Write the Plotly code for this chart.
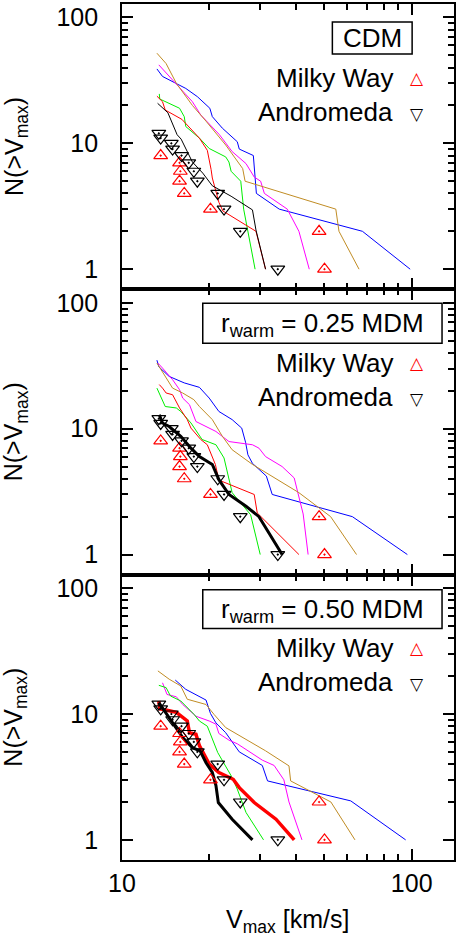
import plotly.graph_objects as go
from plotly.subplots import make_subplots

# observed satellites (same in every panel)
mw_vmax = [50.0, 47.9, 20.2, 16.4, 15.8, 15.9, 15.8, 13.6]
mw_n = [1, 2, 3, 4, 5, 6, 7, 8]
m31_vmax = [34.5, 25.6, 22.5, 21.4, 18.2, 17.7, 17.0, 16.05, 14.95, 14.8, 13.6, 13.4]
m31_n = [1, 2, 3, 4, 5, 6, 7, 8, 9, 10, 11, 12]

# panel 1: CDM
cdm_blue_v = [98.8, 67.6, 34.9, 29.1, 28.4, 25.4, 25.0, 22.2, 20.5, 20.1, 18.2, 16.6, 13.8, 13.2]
cdm_blue_n = [1, 2, 3, 4, 8, 9, 10.3, 13.2, 16.3, 19, 23.5, 27.3, 34, 39]
cdm_magenta_v = [44.3, 40.8, 37.2, 31.0, 30.1, 28.6, 26.8, 24.0, 21.7, 18.7, 17.5, 15.3, 13.8, 13.4]
cdm_magenta_n = [1, 2, 3, 4, 5, 5.4, 6.9, 8.6, 11.7, 16.8, 21.4, 30, 39, 42]
cdm_gold_v = [65.8, 56.1, 54.7, 26.6, 26.1, 22.8, 19.5, 17.5, 15.4, 14.2, 13.2]
cdm_gold_n = [1, 2, 3, 5, 6.3, 9.7, 15, 20, 30, 43, 52]
cdm_green_v = [28.8, 26.3, 25.7, 23.8, 23.4, 22.8, 20.0, 18.5, 16.6, 16.4, 15.8, 13.5, 13.45]
cdm_green_n = [1, 3, 5, 6, 7.1, 7.8, 9.1, 11, 13.6, 16.3, 19, 22.5, 24.7]
cdm_red_v = [31.3, 29.0, 22.3, 21.6, 20.5, 20.3, 19.7, 18.5, 16.1, 14.1, 13.8, 13.2]
cdm_red_n = [1, 2, 2.9, 3.4, 5.3, 6.2, 8.8, 11, 15.5, 18.4, 21.4, 23.7]
cdm_black_v = [31.3, 29.0, 28.2, 23.8, 20.5, 19.0, 17.5, 16.6, 16.0, 15.5, 14.4, 13.27]
cdm_black_n = [1, 2.05, 2.96, 3.8, 4.6, 5.8, 7.1, 9.1, 10.8, 11.7, 17.5, 20.8]

# panel 2: r_warm = 0.25 MDM
m25_blue_v = [96.6, 62.4, 33.0, 31.5, 28.2, 27.2, 26.7, 25.9, 24.0, 21.6, 20.0, 18.5, 16.4, 14.55, 13.4, 13.2]
m25_blue_n = [1, 2, 3, 4.2, 5.3, 6.2, 7.8, 10.1, 11.8, 13.7, 17.5, 21.3, 23.1, 26, 31, 35]
m25_magenta_v = [43.9, 42.2, 39.3, 35.7, 31.3, 29.7, 28.2, 23.4, 21.1, 18.0, 17.1, 16.2, 15.8, 14.95, 13.8, 13.3]
m25_magenta_n = [1, 2.1, 4.06, 5, 6, 7, 7.45, 7.9, 9.5, 11.4, 15.5, 17.5, 20.4, 24.5, 30.3, 33.2]
m25_gold_v = [64.5, 52.5, 40.8, 31.3, 28.2, 24.0, 22.2, 20.5, 18.5, 17.7, 16.2, 14.95, 13.8, 13.2]
m25_gold_n = [1, 2, 3.1, 4.45, 5.2, 6.8, 8.7, 11.8, 15, 17, 19.2, 21, 28.5, 33.2]
m25_green_v = [30.0, 27.8, 24.0, 23.4, 22.5, 21.1, 18.9, 17.3, 15.95, 15.4, 14.1, 13.2]
m25_green_n = [1, 2.07, 3.1, 3.93, 5.85, 7.45, 8.2, 11.1, 13.7, 14.6, 15, 21]
m25_red_v = [40.8, 29.3, 28.6, 21.6, 21.0, 19.7, 18.7, 17.3, 16.8, 15.8, 14.95, 14.2, 13.8, 13.45]
m25_red_n = [1, 2.14, 3, 3.9, 5.2, 7.45, 8.2, 10.1, 11.8, 14.6, 18.6, 19.2, 21, 22.4]
m25_black_v = [35.7, 29.7, 26.8, 23.4, 21.6, 20.5, 18.5, 17.3, 15.95, 14.55, 13.8, 13.45]
m25_black_n = [1, 2, 2.42, 3, 3.93, 5.2, 6, 7, 8.7, 10.4, 11.1, 12.9]

# panel 3: r_warm = 0.50 MDM
m50_blue_v = [95.3, 61.6, 31.8, 30.5, 25.4, 22.8, 21.1, 20.2, 19.5, 16.6, 15.27]
m50_blue_n = [1, 2.04, 2.94, 3.9, 5.0, 7.1, 8.5, 10.1, 12.9, 15.7, 18.6]
m50_magenta_v = [41.8, 37.7, 36.2, 33.5, 30.5, 26.5, 25.0, 23.4, 21.6, 21.1, 20.0, 18.0, 16.2, 15.4, 14.3, 13.8]
m50_magenta_n = [1, 2, 3, 3.9, 4.3, 5.3, 5.8, 6.2, 7.0, 8.3, 8.8, 9.6, 11.9, 13.7, 14.3, 17.7]
m50_gold_v = [63.7, 52.6, 38.2, 37.7, 31.3, 25.4, 22.8, 20.8, 19.5, 16.8, 15.95, 14.55, 13.3]
m50_gold_n = [1, 2, 2.94, 3.87, 5.1, 6.7, 7.8, 9.9, 11.9, 13.1, 16.7, 18.9, 22]
m50_green_v = [30.8, 26.8, 25.0, 24.0, 21.4, 20.5, 19.7, 18.5, 17.75, 15.95, 14.7, 14.2, 13.4]
m50_green_n = [1, 1.65, 2.53, 3.13, 4.94, 6.3, 8.0, 8.8, 9.9, 12.7, 13.9, 16.2, 16.9]
m50_red_v = [39.3, 34.0, 28.6, 25.4, 24.2, 21.6, 20.0, 19.5, 18.5, 18.0, 17.1, 16.8, 15.95, 15.4, 14.55, 13.5, 13.4]
m50_red_n = [1, 1.46, 1.98, 2.6, 3.03, 3.43, 4, 4.5, 5.6, 6.9, 7.1, 8.8, 9.6, 10.3, 10.6, 11, 12.7]
m50_black_v = [28.2, 24.0, 21.5, 21.1, 20.5, 19.5, 18.6, 17.5, 16.2, 14.95, 13.8, 13.4]
m50_black_n = [1, 1.46, 1.98, 2.7, 3.43, 4.1, 5.1, 5.4, 6.5, 8.5, 10.9, 12.3]

panel_labels = ["CDM", "r<sub>warm</sub> = 0.25 MDM", "r<sub>warm</sub> = 0.50 MDM"]
y_ticks = [1, 10, 100]
x_ticks = [10, 100]

BLUE, MAGENTA, GOLD, GREEN, RED, BLACK = "#0000ff", "#ff00ff", "#c08c24", "#00ee00", "#ff0000", "#000000"
FONT = "Liberation Sans, Arial, sans-serif"

panels = [
    [(cdm_blue_v, cdm_blue_n, BLUE, 1), (cdm_magenta_v, cdm_magenta_n, MAGENTA, 1),
     (cdm_gold_v, cdm_gold_n, GOLD, 1), (cdm_green_v, cdm_green_n, GREEN, 1),
     (cdm_red_v, cdm_red_n, RED, 1), (cdm_black_v, cdm_black_n, BLACK, 1)],
    [(m25_blue_v, m25_blue_n, BLUE, 1), (m25_magenta_v, m25_magenta_n, MAGENTA, 1),
     (m25_gold_v, m25_gold_n, GOLD, 1), (m25_green_v, m25_green_n, GREEN, 1),
     (m25_red_v, m25_red_n, RED, 1), (m25_black_v, m25_black_n, BLACK, 3)],
    [(m50_blue_v, m50_blue_n, BLUE, 1), (m50_magenta_v, m50_magenta_n, MAGENTA, 1),
     (m50_gold_v, m50_gold_n, GOLD, 1), (m50_green_v, m50_green_n, GREEN, 1),
     (m50_red_v, m50_red_n, RED, 3.5), (m50_black_v, m50_black_n, BLACK, 3)],
]

W, H = 458, 942
L, R, T, B = 122, 3, 2, 82

fig = make_subplots(rows=3, cols=1, shared_xaxes=True, vertical_spacing=0)

for i, curves in enumerate(panels):
    row = i + 1
    for v, n, col, w in curves:
        fig.add_trace(go.Scatter(x=v, y=n, mode="lines", line=dict(color=col, width=w),
                                 showlegend=False), row=row, col=1)
    fig.add_trace(go.Scatter(x=mw_vmax, y=mw_n, mode="markers", showlegend=False,
                             marker=dict(symbol="triangle-up-open-dot", size=12, color=RED,
                                         line=dict(width=1.2, color=RED))), row=row, col=1)
    fig.add_trace(go.Scatter(x=m31_vmax, y=m31_n, mode="markers", showlegend=False,
                             marker=dict(symbol="triangle-down-open-dot", size=12, color=BLACK,
                                         line=dict(width=1.2, color=BLACK))), row=row, col=1)

axis_common = dict(
    type="log", showgrid=False, zeroline=False, showline=True, linecolor="black", linewidth=1.8,
    mirror="allticks", ticks="inside", ticklen=11, tickwidth=2, tickcolor="black",
    tickfont=dict(family=FONT, size=25, color="black"),
)
minor_y = [2, 3, 4, 5, 6, 7, 8, 9, 20, 30, 40, 50, 60, 70, 80, 90]
minor_x = [20, 30, 40, 50, 60, 70, 80, 90]

for row in range(1, 4):
    fig.update_yaxes(axis_common, range=[-0.16, 2.107], tickvals=y_ticks,
                     ticktext=[str(t) for t in y_ticks], ticklabelstandoff=17,
                     minor=dict(tickvals=minor_y, ticks="inside", ticklen=6, tickwidth=1.5,
                                tickcolor="black", showgrid=False),
                     row=row, col=1)
    fig.update_xaxes(axis_common, range=[1, 2.146], tickvals=x_ticks,
                     ticktext=[str(t) for t in x_ticks], ticklabelstandoff=0,
                     minor=dict(tickvals=minor_x, ticks="inside", ticklen=6, tickwidth=1.5,
                                tickcolor="black", showgrid=False),
                     row=row, col=1)


def px_x(px):
    return (px - L) / (W - L - R)


def px_y(py):
    return 1 - (py - T) / (H - T - B)


annotations = []
shapes = []
panel_tops = [T, T + (H - T - B) / 3, T + 2 * (H - T - B) / 3]
# label boxes: left, right, top, bottom offsets (px) within each panel
box_px = [(333, 413, 18, 50), (203, 443, 14, 54), (203, 443, 15, 54)]
for i, top in enumerate(panel_tops):
    x0, x1, y0, y1 = box_px[i]
    shapes.append(dict(type="rect", xref="paper", yref="paper",
                       x0=px_x(x0), x1=px_x(x1), y0=px_y(top + y0), y1=px_y(top + y1),
                       line=dict(color="black", width=1.5), fillcolor="white", layer="above"))
    annotations.append(dict(x=px_x((x0 + x1) / 2), y=px_y(top + (y0 + y1) / 2 + (0 if i == 0 else 1)),
                            xref="paper", yref="paper",
                            xanchor="center", yanchor="middle", showarrow=False,
                            text=panel_labels[i], font=dict(family=FONT, size=26, color="black")))
    annotations.append(dict(x=px_x(396), y=px_y(top + 74), xref="paper", yref="paper",
                            xanchor="right", yanchor="middle", showarrow=False,
                            text="Milky Way", font=dict(family=FONT, size=26, color="black")))
    annotations.append(dict(x=px_x(418), y=px_y(top + 74), xref="paper", yref="paper",
                            xanchor="center", yanchor="middle", showarrow=False,
                            text="△", font=dict(family="DejaVu Sans", size=17, color=RED)))
    annotations.append(dict(x=px_x(396), y=px_y(top + 108), xref="paper", yref="paper",
                            xanchor="right", yanchor="middle", showarrow=False,
                            text="Andromeda", font=dict(family=FONT, size=26, color="black")))
    annotations.append(dict(x=px_x(418), y=px_y(top + 110), xref="paper", yref="paper",
                            xanchor="center", yanchor="middle", showarrow=False,
                            text="▽", font=dict(family="DejaVu Sans", size=17, color=BLACK)))
    # y axis title
    annotations.append(dict(x=px_x(15), y=px_y(top + (H - T - B) / 6), xref="paper", yref="paper",
                            xanchor="center", yanchor="middle", showarrow=False, textangle=-90,
                            text="N(>V<sub>max</sub>)", font=dict(family=FONT, size=25, color="black")))

annotations.append(dict(x=px_x(288), y=px_y(921), xref="paper", yref="paper",
                        xanchor="center", yanchor="middle", showarrow=False,
                        text="V<sub>max</sub> [km/s]", font=dict(family=FONT, size=25, color="black")))

fig.update_layout(
    width=W, height=H,
    margin=dict(l=L, r=R, t=T, b=B),
    plot_bgcolor="white", paper_bgcolor="white",
    annotations=annotations,
    shapes=shapes,
    font=dict(family=FONT, color="black"),
)

# drop the page's default body margin so the figure sits at the window's corner
fig.write_html("out.html", config={"displayModeBar": False},
               post_script="document.body.style.margin='0';")
